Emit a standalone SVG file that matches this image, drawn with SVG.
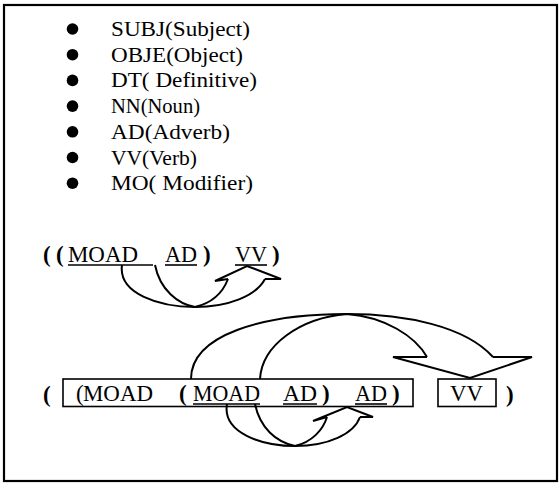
<svg xmlns="http://www.w3.org/2000/svg" width="560" height="487" viewBox="0 0 560 487">
  <style>
    .li { font-size: 21px; }
    .ex { font-size: 23px; }
    .par { font-size: 23px; font-weight: bold; }
    .ul { stroke: #000; stroke-width: 1.6; fill: none; }
    .box { stroke: #000; stroke-width: 1.6; fill: none; }
    .arr { stroke: #000; stroke-width: 2; fill: none; stroke-linejoin: miter; }
  </style>
  <rect width="560" height="487" fill="#fff"/>
  <!-- outer frame -->
  <rect x="4" y="5" width="553" height="476" fill="none" stroke="#000" stroke-width="2.2"/>

  <g font-family="Liberation Serif, Tinos, DejaVu Serif, Noto Serif, serif" fill="#000">
  <!-- legend -->
  <g id="legend">
    <g id="item-subj"><circle cx="72.5" cy="29" r="5.8"/><text class="li" x="111" y="36" textLength="139" lengthAdjust="spacingAndGlyphs">SUBJ(Subject)</text></g>
    <g id="item-obje"><circle cx="72.5" cy="54.7" r="5.8"/><text class="li" x="111" y="61.7" textLength="132" lengthAdjust="spacingAndGlyphs">OBJE(Object)</text></g>
    <g id="item-dt"><circle cx="72.5" cy="80.4" r="5.8"/><text class="li" x="111" y="87.4" textLength="146" lengthAdjust="spacingAndGlyphs">DT( Definitive)</text></g>
    <g id="item-nn"><circle cx="72.5" cy="106.1" r="5.8"/><text class="li" x="111" y="113.1" textLength="89" lengthAdjust="spacingAndGlyphs">NN(Noun)</text></g>
    <g id="item-ad"><circle cx="72.5" cy="131.8" r="5.8"/><text class="li" x="111" y="138.8" textLength="119" lengthAdjust="spacingAndGlyphs">AD(Adverb)</text></g>
    <g id="item-vv"><circle cx="72.5" cy="157.5" r="5.8"/><text class="li" x="111" y="164.5" textLength="86" lengthAdjust="spacingAndGlyphs">VV(Verb)</text></g>
    <g id="item-mo"><circle cx="72.5" cy="183.2" r="5.8"/><text class="li" x="111" y="190.2" textLength="142" lengthAdjust="spacingAndGlyphs">MO( Modifier)</text></g>
  </g>

  <!-- first bracketed expression -->
  <g id="expr1">
    <text class="par" x="43" y="262">(</text>
    <text class="par" x="56" y="262">(</text>
    <g id="e1-moad"><text class="ex" x="68" y="262" textLength="70" lengthAdjust="spacingAndGlyphs">MOAD</text><line class="ul" x1="68" y1="265" x2="153" y2="265"/></g>
    <g id="e1-ad"><text class="ex" x="165" y="262" textLength="32" lengthAdjust="spacingAndGlyphs">AD</text><line class="ul" x1="165" y1="265" x2="197" y2="265"/></g>
    <text class="par" x="203" y="262">)</text>
    <g id="e1-vv"><text class="ex" x="235" y="262" textLength="32" lengthAdjust="spacingAndGlyphs">VV</text><line class="ul" x1="235" y1="265" x2="267" y2="265"/></g>
    <text class="par" x="272" y="262">)</text>
  </g>

  <!-- second bracketed expression -->
  <g id="expr2">
    <text class="par" x="43" y="402">(</text>
    <g id="e2-outer">
      <rect class="box" x="63" y="379" width="350" height="27.5"/>
      <text class="ex" x="76" y="401">(</text>
      <text class="ex" x="83" y="401" textLength="70" lengthAdjust="spacingAndGlyphs">MOAD</text>
      <text class="par" x="179" y="401">(</text>
    </g>
    <g id="e2-moad"><text class="ex" x="193" y="401" textLength="67" lengthAdjust="spacingAndGlyphs">MOAD</text><line class="ul" x1="193" y1="404" x2="260" y2="404"/></g>
    <g id="e2-ad1"><text class="ex" x="283" y="401" textLength="34" lengthAdjust="spacingAndGlyphs">AD</text><line class="ul" x1="283" y1="404" x2="317" y2="404"/></g>
    <text class="par" x="322" y="401">)</text>
    <g id="e2-ad2"><text class="ex" x="355" y="401" textLength="32" lengthAdjust="spacingAndGlyphs">AD</text><line class="ul" x1="355" y1="404" x2="387" y2="404"/></g>
    <text class="par" x="392" y="401">)</text>
    <g id="e2-vv">
      <rect class="box" x="438" y="379" width="58" height="27.5"/>
      <text class="ex" x="450" y="401" textLength="33" lengthAdjust="spacingAndGlyphs">VV</text>
    </g>
    <text class="par" x="506" y="402">)</text>
  </g>
  </g>

  <!-- curved block arrows -->
  <g id="connectors">
    <!-- MOAD AD -> VV -->
    <path class="arr" d="M122,265 C118,294 160,307 195,307 C228,307 256,296 265,279"/>
    <path class="arr" d="M155,265 C160,290 178,304 195,307 C212,303 223,292 228,279"/>
    <path class="arr" d="M228,279 L215,281 L247,266 L281,279 L265,279"/>

    <!-- (MOAD AD) -> AD -->
    <path class="arr" d="M227,404 C222,433 262,446 295,446 C328,446 354,434 360,417"/>
    <path class="arr" d="M255,404 C260,428 276,442 295,446 C312,442 323,430 327,417"/>
    <path class="arr" d="M327,417 L313,421 L347,407 L373,417 L360,417"/>

    <!-- whole adverbial -> VV -->
    <path class="arr" d="M191,379 C191,335 262,314 347,314 C405,314 465,326 493,357"/>
    <path class="arr" d="M260,379 C262,345 300,318 347,314 C385,317 415,336 427,357"/>
    <path class="arr" d="M427,357 L393,357 L470,378 L532,357 L493,357"/>
  </g>
</svg>
